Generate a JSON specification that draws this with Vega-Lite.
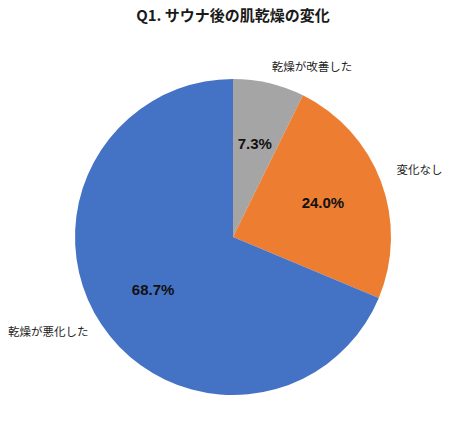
{
  "$schema": "https://vega.github.io/schema/vega-lite/v6.json",
  "width": 434,
  "height": 412,
  "autosize": {"type": "none"},
  "padding": {"top": 31, "left": 16, "right": 0, "bottom": 0},
  "background": "white",
  "title": {
    "text": "Q1. サウナ後の肌乾燥の変化",
    "font": "Noto Sans CJK JP",
    "fontSize": 15,
    "fontWeight": "bold",
    "color": "#1a1a1a",
    "anchor": "middle",
    "offset": 0
  },
  "config": {"view": {"stroke": null}},
  "data": {
    "values": [
      {"category": "乾燥が改善した", "share": 0.073, "rank": 1},
      {"category": "変化なし", "share": 0.240, "rank": 2},
      {"category": "乾燥が悪化した", "share": 0.687, "rank": 3}
    ]
  },
  "encoding": {
    "theta": {"field": "share", "type": "quantitative", "stack": true},
    "order": {"field": "rank", "type": "quantitative"},
    "color": {
      "field": "category",
      "type": "nominal",
      "scale": {
        "domain": ["乾燥が改善した", "変化なし", "乾燥が悪化した"],
        "range": ["#A5A5A5", "#ED7D31", "#4472C4"]
      },
      "legend": null
    }
  },
  "layer": [
    {"mark": {"type": "arc", "outerRadius": 158}},
    {
      "mark": {"type": "text", "radius": 96, "font": "Liberation Sans", "fontSize": 15, "fontWeight": "bold"},
      "encoding": {
        "text": {"field": "share", "type": "quantitative", "format": ".1%"},
        "color": {"value": "#111111"}
      }
    },
    {
      "mark": {"type": "text", "radius": 198, "dx": 34, "dy": 24, "font": "Noto Sans CJK JP", "fontSize": 11.5},
      "encoding": {
        "text": {"field": "category", "type": "nominal"},
        "color": {"value": "#222222"},
        "opacity": {"condition": {"test": "datum.category === '乾燥が改善した'", "value": 1}, "value": 0}
      }
    },
    {
      "mark": {"type": "text", "radius": 198, "dx": 1, "dy": 3, "font": "Noto Sans CJK JP", "fontSize": 11.5},
      "encoding": {
        "text": {"field": "category", "type": "nominal"},
        "color": {"value": "#222222"},
        "opacity": {"condition": {"test": "datum.category === '変化なし'", "value": 1}, "value": 0}
      }
    },
    {
      "mark": {"type": "text", "radius": 198, "dx": -20, "dy": -14, "font": "Noto Sans CJK JP", "fontSize": 11.5},
      "encoding": {
        "text": {"field": "category", "type": "nominal"},
        "color": {"value": "#222222"},
        "opacity": {"condition": {"test": "datum.category === '乾燥が悪化した'", "value": 1}, "value": 0}
      }
    }
  ]
}
